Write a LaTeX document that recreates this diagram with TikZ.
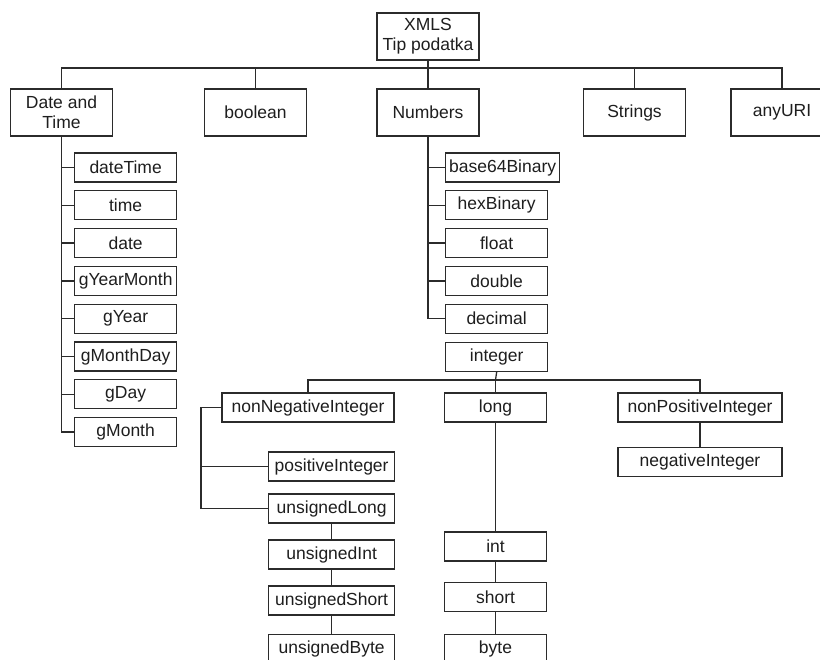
\documentclass[tikz,border=0pt]{standalone}
\usepackage{fontspec}
\setmainfont{Liberation Sans}
\usepackage{xcolor}
\usepackage{tikz}
\definecolor{xsline}{HTML}{2B2B2B}
\definecolor{xstext}{HTML}{1E1E1E}

\begin{document}
\begin{tikzpicture}[
    x=1pt, y=-1pt,
    type/.style={
        draw=xsline,
        fill=white,
        line width=1.3pt,
        text=xstext,
        font=\fontsize{17.5}{20}\selectfont,
        align=center,
        inner sep=1pt,
        minimum width=102pt,
        minimum height=29pt
    },
    group/.style={
        type,
        minimum height=47pt
    },
    link/.style={
        draw=xsline,
        line width=1.3pt
    }
]

\useasboundingbox (0,0) rectangle (820,660);

% ============================================================
% Root and first level
% ============================================================

\node[group] (root) at (428,36.5) {XMLS\\Tip podatka};

\node[group] (dt)   at (61.5,112.5) {Date and\\Time};
\node[group] (bool) at (255.5,112.5) {boolean};
\node[group] (num)  at (428,112.5) {Numbers};
\node[group] (str)  at (634.5,112.5) {Strings};
\node[group] (uri)  at (782,112.5) {anyURI};

\coordinate (bus) at (428,68);
\draw[link] (root.south) -- (bus);
\draw[link] (dt.north) -- (dt.north |- bus) -| (uri.north);
\foreach \n in {bool,num,str}
    \draw[link] (\n.north) -- (\n.north |- bus);

% ============================================================
% Date and Time
% ============================================================

\foreach \n/\t [count=\i from 0] in {
    dtime/dateTime, time/time, date/date, gym/gYearMonth,
    gy/gYear, gmd/gMonthDay, gd/gDay, gm/gMonth} {
    \node[type, anchor=west] (\n) at (74,167.5+37.8*\i) {\t};
    \draw[link] (dt.south) |- (\n.west);
}

% ============================================================
% Numbers
% ============================================================

\foreach \n/\t/\w [count=\i from 0] in {
    b64/base64Binary/114, hex/hexBinary/102, flt/float/102,
    dbl/double/102, dec/decimal/102} {
    \node[type, anchor=west, minimum width=\w pt] (\n) at (445,167.5+37.8*\i) {\t};
    \draw[link] (num.south) |- (\n.west);
}

\node[type, anchor=west] (int) at (445,357) {integer};

% ============================================================
% integer
% ============================================================

\node[type, minimum width=172pt] (nonneg) at (308,407.5) {nonNegativeInteger};
\node[type] (long) at (495.5,407.5) {long};
\node[type, minimum width=164pt] (nonpos) at (700,407.5) {nonPositiveInteger};

\coordinate (ibus) at (495.5,380);
\draw[link] (int.south) -- (ibus);
\draw[link] (nonneg.north) |- (ibus) -| (nonpos.north);
\draw[link] (ibus) -- (long.north);

% nonNegativeInteger branch
\node[type, anchor=west, minimum width=126pt] (posint) at (268,466.5) {positiveInteger};
\node[type, anchor=west, minimum width=126pt] (ulong)  at (268,508.5) {unsignedLong};
\node[type, anchor=west, minimum width=126pt] (uint)   at (268,554.5) {unsignedInt};
\node[type, anchor=west, minimum width=126pt] (ushort) at (268,600.5) {unsignedShort};
\node[type, anchor=west, minimum width=126pt] (ubyte)  at (268,649) {unsignedByte};

\coordinate (nnx) at (201,407.5);
\draw[link] (nonneg.west) -- (nnx) |- (ulong.west);
\draw[link] (nnx) |- (posint.west);
\draw[link] (ulong) -- (uint) -- (ushort) -- (ubyte);

% long branch
\node[type] (sint)  at (495.5,546.5) {int};
\node[type] (short) at (495.5,597) {short};
\node[type] (byte)  at (495.5,649) {byte};
\draw[link] (long) -- (sint) -- (short) -- (byte);

% nonPositiveInteger branch
\node[type, minimum width=164pt] (negint) at (700,462) {negativeInteger};
\draw[link] (nonpos) -- (negint);

\end{tikzpicture}
\end{document}
